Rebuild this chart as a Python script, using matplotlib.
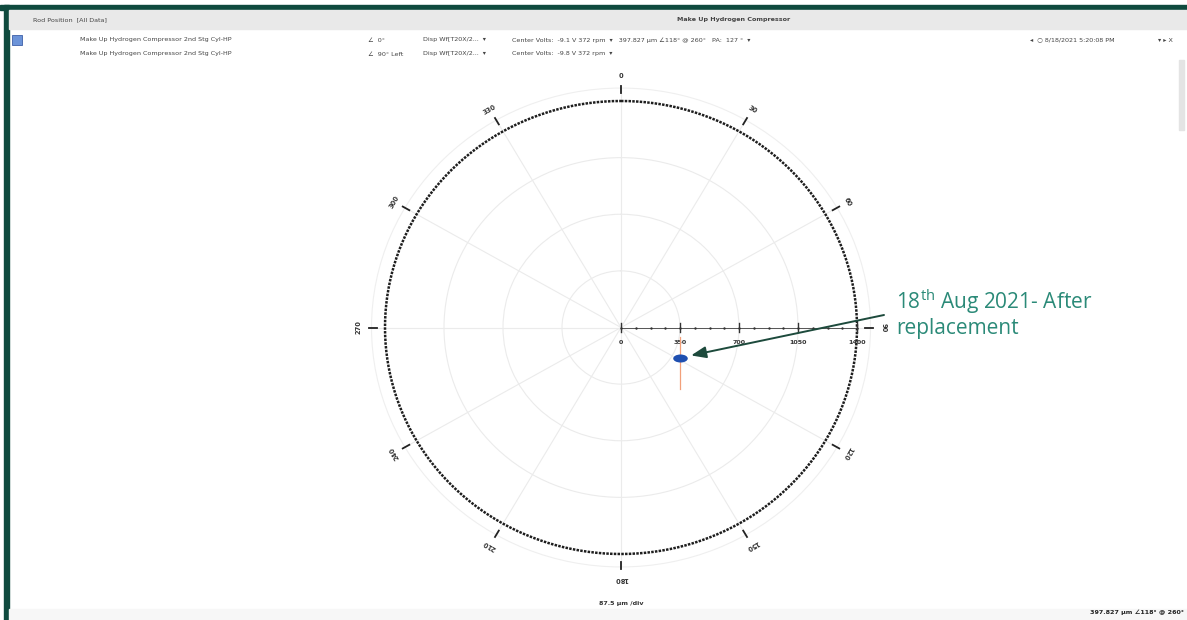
import numpy as np
import matplotlib
matplotlib.use("Agg")
import matplotlib.pyplot as plt
from matplotlib.path import Path
from matplotlib.transforms import Affine2D
from matplotlib.markers import MarkerStyle
from matplotlib.patches import Rectangle

# ---------------- data ----------------
angle_ticks = [0, 30, 60, 90, 120, 150, 180, 210, 240, 270, 300, 330]
angle_labels = ["0", "30", "60", "90", "120", "150", "180", "210", "240", "270", "300", "330"]
radial_ticks = [0, 350, 700, 1050, 1400]
radial_labels = ["0", "350", "700", "1050", "1400"]
um_per_div = 87.5
clearance_radius = 1400
r_max = 1480
rod_amp = [397.827]      # µm
rod_angle = [118]        # deg
marker_x = [350, 350]    # µm (cartesian, orange reference line)
marker_y = [-60, -380]

header_title = "Make Up Hydrogen Compressor"
probe_name = "Make Up Hydrogen Compressor 2nd Stg Cyl-HP"

W, H = 1187, 620
fig = plt.figure(figsize=(W / 100, H / 100), dpi=100)
fig.patch.set_facecolor("white")

def fx(px):
    return px / W

def fy(py):
    return 1 - py / H

# ---------- frame / header ----------
fig.patches.append(Rectangle((0, fy(10)), 1, fy(5) - fy(10), transform=fig.transFigure,
                             color="#0f4a3e", zorder=0))
fig.patches.append(Rectangle((fx(4), 0), fx(5), fy(5), transform=fig.transFigure,
                             color="#0f4a3e", zorder=0))
fig.patches.append(Rectangle((fx(9), fy(29)), 1, fy(10) - fy(29), transform=fig.transFigure,
                             color="#e9e9e9", zorder=0))
fig.patches.append(Rectangle((fx(9), 0), 1, fy(609), transform=fig.transFigure,
                             color="#f7f7f7", zorder=0))
fig.patches.append(Rectangle((fx(1179), fy(130)), fx(5), fy(60) - fy(130), transform=fig.transFigure,
                             color="#e4e4e4", zorder=0))
fig.patches.append(Rectangle((fx(12), fy(45)), fx(10), fy(35) - fy(45), transform=fig.transFigure,
                             facecolor="#6b93d8", edgecolor="#3d5fa8", lw=0.6, zorder=1))

hs = 4.6
tc = "#444444"
fig.text(fx(33), fy(20), "Rod Position  [All Data]", fontsize=hs, color=tc, va="center")
fig.text(fx(734), fy(20), header_title, fontsize=hs, color=tc, va="center", ha="center",
         fontweight="bold")
row1, row2 = 40, 54
fig.text(fx(80), fy(row1), probe_name, fontsize=hs, color=tc, va="center")
fig.text(fx(80), fy(row2), probe_name, fontsize=hs, color=tc, va="center")
fig.text(fx(368), fy(row1), "∠  0°", fontsize=hs, color=tc, va="center")
fig.text(fx(368), fy(row2), "∠  90° Left", fontsize=hs, color=tc, va="center")
fig.text(fx(423), fy(row1), "Disp Wf[T20X/2...  ▾", fontsize=hs, color=tc, va="center")
fig.text(fx(423), fy(row2), "Disp Wf[T20X/2...  ▾", fontsize=hs, color=tc, va="center")
fig.text(fx(512), fy(row1),
         "Center Volts:  -9.1 V 372 rpm  ▾   397.827 µm ∠118° @ 260°   PA:  127 °  ▾",
         fontsize=hs, color=tc, va="center")
fig.text(fx(512), fy(row2), "Center Volts:  -9.8 V 372 rpm  ▾", fontsize=hs, color=tc, va="center")
fig.text(fx(1030), fy(row1), "◂  ○ 8/18/2021 5:20:08 PM", fontsize=hs, color=tc, va="center")
fig.text(fx(1158), fy(row1), "▾ ▸ X", fontsize=hs, color=tc, va="center")

# ---------- polar plot ----------
cx, cy = 621, 327.5
hx = r_max * 236 / 1400
hy = r_max * 226.5 / 1400
ax = fig.add_axes([fx(cx - hx), fy(cy + hy), 2 * hx / W, 2 * hy / H], projection="polar")
ax.set_aspect("auto")
ax.set_theta_zero_location("N")
ax.set_theta_direction(-1)
ax.set_ylim(0, r_max)
ax.set_xticks(np.deg2rad(angle_ticks))
ax.set_xticklabels([])
ax.set_yticks(radial_ticks[1:4])
ax.set_yticklabels([])
ax.tick_params(length=0)
ax.grid(True, color="#ebebeb", lw=0.8)
ax.spines["polar"].set_color("#efefef")
ax.spines["polar"].set_linewidth(0.8)
ax.set_facecolor("none")

# clearance dashed circle
th = np.linspace(0, 2 * np.pi, 721)
ax.plot(th, np.full_like(th, clearance_radius), color="#1e1e1e", lw=1.8,
        linestyle=(0, (1.0, 0.5)), zorder=3)

# angular tick marks and labels
for a, lab in zip(angle_ticks, angle_labels):
    t = np.deg2rad(a)
    ax.plot([t, t], [1450, 1495], color="#222222", lw=1.3, clip_on=False, zorder=3)
    ax.text(t, 1555, lab, fontsize=4.8, color="#333333", ha="center", va="center",
            rotation=-a, rotation_mode="anchor", clip_on=False, fontweight="bold")

# radial axis along 90°
t90 = np.deg2rad(90)
ax.plot([t90, t90], [0, radial_ticks[-1]], color="#555555", lw=0.7, zorder=3)
minor = np.arange(0, radial_ticks[-1] + 1, um_per_div)
ax.scatter(np.full_like(minor, t90), minor, s=3, color="#333333", zorder=4, lw=0)
for rv, lab in zip(radial_ticks, radial_labels):
    xs = np.array([rv, rv])
    ys = np.array([28, -28])
    ax.plot(np.arctan2(xs, ys), np.hypot(xs, ys), color="#333333", lw=1.0, zorder=4)
    ly = -95
    ax.text(np.arctan2(rv, ly), np.hypot(rv, ly), lab, fontsize=4.6, color="#333333",
            ha="center", va="center", fontweight="bold")

# orange reference line
mx = np.array(marker_x, dtype=float)
my = np.array(marker_y, dtype=float)
ax.plot(np.arctan2(mx, my), np.hypot(mx, my), color="#f2a07a", lw=0.9, zorder=4)

# rod position point (ellipse marker)
ell = Path.unit_circle().transformed(Affine2D().scale(1.0, 0.55))
ax.scatter(np.deg2rad(rod_angle), rod_amp, marker=MarkerStyle(ell), s=110,
           color="#1f4fb0", zorder=5, lw=0)

# annotation
ax.annotate("", xy=(np.deg2rad(rod_angle[0]), rod_amp[0]),
            xytext=(fx(884), fy(315)), textcoords="figure fraction",
            arrowprops=dict(arrowstyle="-|>,head_length=0.9,head_width=0.35",
                            color="#1d4a3c", lw=1.4, shrinkA=0, shrinkB=8),
            annotation_clip=False, zorder=6)
plt.rcParams["mathtext.fontset"] = "custom"
plt.rcParams["mathtext.rm"] = "Open Sans"
plt.rcParams["mathtext.it"] = "Open Sans"
fig.text(fx(896), fy(313), "18$^{\\mathrm{th}}$ Aug 2021- After\nreplacement",
         fontsize=15, color="#2b8a78", family="Open Sans", va="center", ha="left",
         linespacing=1.15)

# footer texts
fig.text(fx(621), fy(604), "87.5 µm /div", fontsize=4.6, color="#333333", ha="center",
         va="center", fontweight="bold")
fig.text(fx(1184), fy(612), "397.827 µm ∠118° @ 260°", fontsize=4.6, color="#222222",
         ha="right", va="center", fontweight="bold")

fig.savefig("out.png", dpi=100)
